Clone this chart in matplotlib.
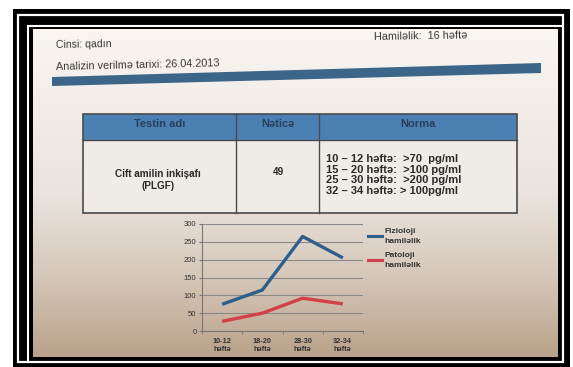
import numpy as np
import matplotlib.pyplot as plt
from matplotlib.patches import Rectangle, Polygon
from matplotlib.lines import Line2D

plt.rcParams['font.family'] = ['Liberation Sans', 'DejaVu Sans']

# chart data
categories = ["10-12\nhəftə", "18-20\nhəftə", "28-30\nhəftə", "32-34\nhəftə"]
fizioloji = [75, 115, 265, 205]
patoloji = [27, 50, 92, 76]
series_labels = ["Fizioloji\nhamiləlik", "Patoloji\nhamiləlik"]
y_ticks = [0, 50, 100, 150, 200, 250, 300]

# document texts
header_left = ["Cinsi: qadın", "Analizin verilmə tarixi: 26.04.2013"]
header_right = "Hamiləlik:  16 həftə"
table_head = ["Testin adı", "Nəticə", "Norma"]
test_name = "Cift amilin inkişafı\n(PLGF)"
test_result = "49"
norma_lines = ["10 – 12 həftə:  >70  pg/ml",
               "15 – 20 həftə:  >100 pg/ml",
               "25 – 30 həftə:  >200 pg/ml",
               "32 – 34 həftə: > 100pg/ml"]

W, H = 573, 367
fig = plt.figure(figsize=(W / 100, H / 100), dpi=100)
fig.patch.set_facecolor("white")

# page in pixel coordinates
bg = fig.add_axes([0, 0, 1, 1])
bg.set_xlim(0, W)
bg.set_ylim(H, 0)
bg.axis("off")

# black frame with white rules
bg.add_patch(Rectangle((13, 9), 557, 358, facecolor="black", edgecolor="none"))
bg.add_patch(Rectangle((18, 14.5), 545, 347, facecolor="none", edgecolor="white", lw=1.6))
bg.plot([28, 28], [26, 362], color="white", lw=1.5)
bg.plot([28, 562], [26, 26], color="white", lw=1.5)

# paper with light falloff towards the bottom
stops_y = [0.0, 0.5, 0.75, 1.0]
stops_c = np.array([[249, 245, 241], [234, 228, 222], [214, 200, 186], [186, 162, 138]]) / 255
yy = np.linspace(0, 1, 200)
grad = np.stack([np.interp(yy, stops_y, stops_c[:, k]) for k in range(3)], axis=-1)
grad = np.repeat(grad[:, None, :], 2, axis=1)
bg.imshow(grad, extent=(33, 558, 357, 29), aspect="auto", zorder=1)

txt = dict(color="#3a3a3a", zorder=3)
bg.text(56, 45, header_left[0], fontsize=7.6, ha="left", va="center", rotation=1, **txt)
bg.text(56, 65, header_left[1], fontsize=7.8, ha="left", va="center", rotation=1.3, **txt)
bg.text(374, 36, header_right, fontsize=7.8, ha="left", va="center", rotation=1, **txt)

# blue band
bg.add_patch(Polygon([(52, 77), (541, 63), (541, 73), (52, 86)], closed=True,
                     facecolor="#3b6589", edgecolor="none", zorder=3))

# table
tx0, tx1 = 83, 517
ty0, ty1, ty2 = 114, 140, 213
cols = [83, 236, 319, 517]
bg.add_patch(Rectangle((tx0, ty1), tx1 - tx0, ty2 - ty1, facecolor="#efebe7",
                       edgecolor="none", zorder=3))
bg.add_patch(Rectangle((tx0, ty0), tx1 - tx0, ty1 - ty0, facecolor="#4a80b3",
                       edgecolor="none", zorder=3))
bg.add_patch(Rectangle((tx0, ty0), tx1 - tx0, ty2 - ty0, facecolor="none",
                       edgecolor="#4a4a4a", lw=1.2, zorder=4))
bg.plot([tx0, tx1], [ty1, ty1], color="#4a4a4a", lw=1.0, zorder=4)
for cx in cols[1:-1]:
    bg.plot([cx, cx], [ty0, ty2], color="#4a4a4a", lw=1.0, zorder=4)
for i, h in enumerate(table_head):
    bg.text((cols[i] + cols[i + 1]) / 2, 124, h, fontsize=8, weight="bold",
            ha="center", va="center", color="#2a4058", zorder=5)
bg.text(158, 180, test_name, fontsize=7.2, weight="bold", ha="center", va="center",
        linespacing=1.35, color="#2a2a2a", zorder=5)
bg.text(278, 172, test_result, fontsize=7.2, weight="bold", ha="center", va="center",
        color="#2a2a2a", zorder=5)
for i, line in enumerate(norma_lines):
    bg.text(326, 159 + i * 10.6, line, fontsize=8, weight="bold", ha="left",
            va="center", color="#2a2a2a", zorder=5)

# line chart
ax = fig.add_axes([202 / W, 1 - 331 / H, 161 / W, 107 / H])
ax.patch.set_alpha(0)
x = np.arange(len(categories)) + 0.5
ax.plot(x, fizioloji, color="#2e5f8c", lw=2.4, solid_capstyle="butt", zorder=3)
ax.plot(x, patoloji, color="#d2414a", lw=2.4, solid_capstyle="butt", zorder=3)
ax.set_xlim(0, len(categories))
ax.set_ylim(0, 300)
ax.set_yticks(y_ticks)
ax.set_yticklabels([str(v) for v in y_ticks], fontsize=5.5, color="#333333")
ax.set_xticks(x)
ax.set_xticklabels(categories, fontsize=5.3, weight="bold", color="#333333", linespacing=1.3)
ax.set_xticks(np.arange(len(categories) + 1), minor=True)
ax.tick_params(axis="x", which="major", length=0, pad=5)
ax.tick_params(axis="x", which="minor", length=2, color="#777777")
ax.tick_params(axis="y", length=2, color="#777777", pad=2)
ax.grid(axis="y", color="#8a8a8a", lw=0.8)
for s in ["top", "right"]:
    ax.spines[s].set_visible(False)
ax.spines["left"].set_color("#777777")
ax.spines["bottom"].set_color("#777777")

handles = [Line2D([], [], color="#2e5f8c", lw=2.2), Line2D([], [], color="#d2414a", lw=2.2)]
leg = ax.legend(handles, series_labels, loc="upper left", bbox_to_anchor=(1.01, 0.99),
                frameon=False, fontsize=6, handlelength=1.7, handletextpad=0.25,
                labelspacing=0.9, borderaxespad=0)
for t in leg.get_texts():
    t.set_color("#333333")
    t.set_weight("bold")
    t.set_linespacing(1.5)

fig.savefig("out.png", dpi=100)
